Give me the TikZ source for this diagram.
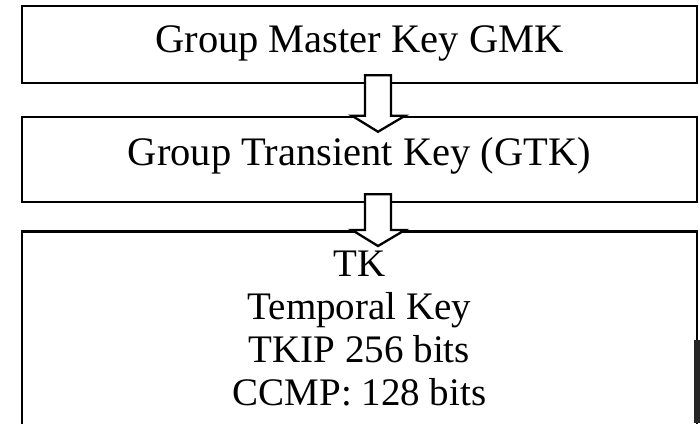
\documentclass[tikz,border=0pt]{standalone}
\usepackage{fontspec}
\setmainfont{Liberation Serif}
\usetikzlibrary{calc,positioning}

\tikzset{
    keybox/.style={draw, line width=2.5pt, minimum width=675pt, inner sep=0pt,
        font=\fontsize{40.5}{43}\selectfont, text height=28pt, text depth=17pt},
    keytext/.style={font=\fontsize{39}{43}\selectfont, align=center, inner sep=0pt},
    arrowbody/.style={draw, fill=white, line width=2.3pt, line join=miter}
}

% hollow block arrow from the bottom of one box into the next
\newcommand{\keyarrow}[2]{%
    \draw[arrowbody] ($(#1.south)+(5.5,-9)$) -- ($(#1.south)+(31.5,-9)$)
        -- ($(#2.north)+(31.5,0)$) -- ($(#2.north)+(45.5,0)$)
        -- ($(#2.north)+(18.5,16)$) -- ($(#2.north)+(-7.5,0)$)
        -- ($(#2.north)+(5.5,0)$) -- cycle;}

\begin{document}
\begin{tikzpicture}[x=1pt, y=-1pt]
        \useasboundingbox (0,0) rectangle (700,423);
        \clip (0,0) rectangle (700,423);

        % Boxes
        \node[keybox, minimum height=77pt, text depth=12pt] (gmk) at (359.5,44.5) {Group Master Key GMK};
        \node[keybox, minimum height=85pt] (gtk) at (359.5,159.5) {Group Transient Key (GTK)};
        \node[keybox, minimum height=240pt, anchor=north] (tk) at (359.5,230) {};

        % Text of the last box
        \node[keytext, anchor=north] (tkinfo) at (359.5,251)
            {TK\\Temporal Key\\TKIP 256 bits\\CCMP: 128 bits};

        % Arrows between the boxes
        \keyarrow{gmk}{gtk}
        \keyarrow{gtk}{tk}

        % dark strip at the right border
        \fill[black!85] (694,340) rectangle (700,423);

    \end{tikzpicture}
\end{document}
